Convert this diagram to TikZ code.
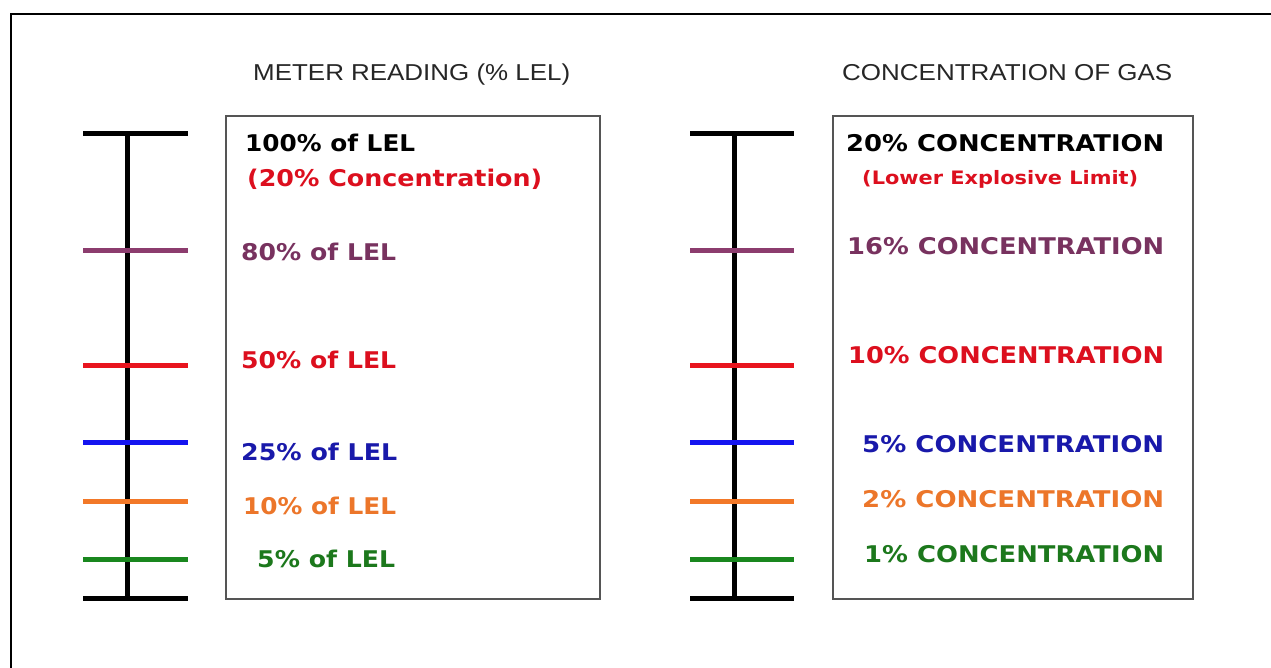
\documentclass[tikz,border=0pt]{standalone}
\usepackage{graphicx}
\usepackage{fontspec}
\setmainfont{Liberation Sans}
\newfontfamily\dejavu{DejaVu Sans}
\newcommand\fitw[2]{\resizebox{#1pt}{\height}{#2}}
\newcommand\lbf{\dejavu\bfseries\fontsize{23}{23}\selectfont}
\newcommand\lbs{\dejavu\bfseries\fontsize{18.5}{18.5}\selectfont}
\newcommand\ttf{\fontsize{23}{23}\selectfont}
\definecolor{tpurple}{RGB}{120,50,95}
\definecolor{tred}{RGB}{220,15,30}
\definecolor{tblue}{RGB}{25,25,170}
\definecolor{torange}{RGB}{236,118,42}
\definecolor{tgreen}{RGB}{28,120,28}
\definecolor{lpurple}{RGB}{140,60,110}
\definecolor{lred}{RGB}{232,20,30}
\definecolor{lblue}{RGB}{20,20,240}
\definecolor{lorange}{RGB}{242,120,40}
\definecolor{lgreen}{RGB}{25,135,30}
\definecolor{boxgray}{RGB}{85,85,85}
\begin{document}
\begin{tikzpicture}[x=1pt,y=-1pt,
  tick/.style={line width=5pt},
  lbl/.style={anchor=base west, inner sep=0pt, font=\lbf},
  lbls/.style={anchor=base west, inner sep=0pt, font=\lbs},
  ttl/.style={anchor=base west, inner sep=0pt, font=\ttf, text=black!85},
  panel/.style={draw=boxgray, line width=1.5pt, anchor=north west, inner sep=0pt}]
\useasboundingbox (0,0) rectangle (1271,667);
% outer frame
\coordinate (f1) at (11,668);
\coordinate (f2) at (11,14);
\coordinate (f3) at (1272,14);
\draw[line width=2.5pt] (f1) -- (f2) -- (f3);
% titles
\node[ttl] (t1) at (253,80) {\fitw{317}{METER READING (\% LEL)}};
\node[ttl] (t2) at (842,80) {\fitw{330}{CONCENTRATION OF GAS}};
% panels
\node[panel, minimum width=374pt, minimum height=483pt] (boxL) at (225,115) {};
\node[panel, minimum width=360pt, minimum height=483pt] (boxR) at (832,115) {};
% scales
\coordinate (lv1) at (127,133); \coordinate (lv2) at (127,598);
\coordinate (rv1) at (734,133); \coordinate (rv2) at (734,598);
\draw[tick] (lv1) -- (lv2);
\draw[tick] (rv1) -- (rv2);
\foreach \yy/\cc [count=\i] in {133/black,250/lpurple,365/lred,442/lblue,501/lorange,559/lgreen,598/black} {
  \coordinate (la\i) at (83,\yy); \coordinate (lb\i) at (188,\yy);
  \coordinate (ra\i) at (690,\yy); \coordinate (rb\i) at (794,\yy);
  \draw[tick,\cc] (la\i) -- (lb\i);
  \draw[tick,\cc] (ra\i) -- (rb\i);
}
% left labels
\node[lbl, text=black]   (l1) at (245,151) {\fitw{170}{100\% of LEL}};
\node[lbl, text=tred]    (l2) at (247,186) {\fitw{295}{(20\% Concentration)}};
\node[lbl, text=tpurple] (l3) at (241,260) {\fitw{155}{80\% of LEL}};
\node[lbl, text=tred]    (l4) at (241,368) {\fitw{155}{50\% of LEL}};
\node[lbl, text=tblue]   (l5) at (241,460) {\fitw{156}{25\% of LEL}};
\node[lbl, text=torange] (l6) at (243,514) {\fitw{153}{10\% of LEL}};
\node[lbl, text=tgreen]  (l7) at (257,567) {\fitw{138}{5\% of LEL}};
% right labels
\node[lbl, text=black]   (r1) at (846,151) {\fitw{318}{20\% CONCENTRATION}};
\node[lbls, text=tred]   (r2) at (862,184) {\fitw{276}{(Lower Explosive Limit)}};
\node[lbl, text=tpurple] (r3) at (847,254) {\fitw{317}{16\% CONCENTRATION}};
\node[lbl, text=tred]    (r4) at (848,363) {\fitw{316}{10\% CONCENTRATION}};
\node[lbl, text=tblue]   (r5) at (862,452) {\fitw{302}{5\% CONCENTRATION}};
\node[lbl, text=torange] (r6) at (862,507) {\fitw{302}{2\% CONCENTRATION}};
\node[lbl, text=tgreen]  (r7) at (864,562) {\fitw{300}{1\% CONCENTRATION}};
\end{tikzpicture}
\end{document}
